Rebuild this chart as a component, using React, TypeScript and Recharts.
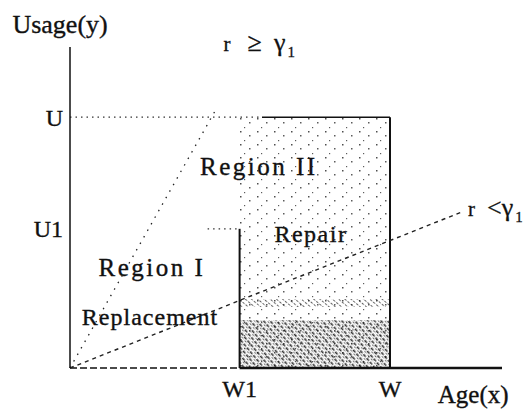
import { ComposedChart, XAxis, YAxis, ReferenceLine, ReferenceArea, ReferenceDot } from 'recharts';

// axis ticks (age on x, usage on y)
const xTickValues = [0.53, 1];
const xTickLabels = ['W1', 'W'];
const yTickValues = [0.555, 1];
const yTickLabels = ['U1', 'U'];

const W1 = 0.53;
const W = 1;
const U1 = 0.555;
const U = 1;

// the two usage-rate boundaries from the origin
const rateHigh = [{ x: 0, y: 0 }, { x: 0.46, y: 1.04 }];
const rateLow = [{ x: 0, y: 0 }, { x: 1.22, y: 0.62 }];

// shaded bands inside the warranty box
const hatchBand = [0.243, 0.275];
const denseBand = [0, 0.19];

// text labels: [text, x, y, size, spacing]
const labels: [string, number, number, number, number][] = [
    ['Usage(y)', -0.031, 1.336, 26, 0],
    ['Region II', 0.59, 0.77, 25, 2.5],
    ['Repair', 0.753, 0.502, 24, 1.5],
    ['Region I', 0.256, 0.367, 25, 2.5],
    ['Replacement', 0.25, 0.171, 24, 1],
    ['Age(x)', 1.26, -0.14, 25, 0],
];

const FONT = '"Liberation Serif", "DejaVu Serif", serif';

const TextLabel = (props: any) => {
    const { viewBox, text, size, spacing } = props;
    const x = viewBox.x + viewBox.width / 2;
    const y = viewBox.y + viewBox.height / 2;
    return (
        <text x={x} y={y} textAnchor="middle" fontFamily={FONT} fontSize={size} letterSpacing={spacing} fill="#111" stroke="#111" strokeWidth={0.35}>
            {text}
        </text>
    );
};

const RateLabel = (props: any) => {
    const { viewBox, op, gap1, gap2 } = props;
    const x = viewBox.x + viewBox.width / 2;
    const y = viewBox.y + viewBox.height / 2;
    return (
        <text x={x} y={y} fontFamily={FONT} fontSize={26} fill="#111" stroke="#111" strokeWidth={0.3}>
            <tspan fontSize={21}>r</tspan>
            <tspan dx={gap1}>{op}</tspan>
            <tspan dx={gap2}>γ</tspan>
            <tspan fontSize={15} dy={6} dx={2}>1</tspan>
        </text>
    );
};

const XTick = (props: any) => {
    const i = xTickValues.indexOf(props.payload.value);
    return (
        <text x={props.x} y={397} textAnchor="middle" fontFamily={FONT} fontSize={24} fill="#111" stroke="#111" strokeWidth={0.35}>
            {xTickLabels[i]}
        </text>
    );
};

const YTick = (props: any) => {
    const i = yTickValues.indexOf(props.payload.value);
    return (
        <text x={props.x + 1} y={props.y} dy="0.35em" textAnchor="end" fontFamily={FONT} fontSize={24} fill="#111" stroke="#111" strokeWidth={0.35}>
            {yTickLabels[i]}
        </text>
    );
};

export default function App() {
    return (
        <div style={{ position: 'absolute', left: 0, top: 0, background: '#fff' }}>
            <ComposedChart width={528} height={409} margin={{ top: 47, right: 26, bottom: 0, left: 0 }} data={[]}>
                <defs>
                    <pattern id="sparse" width="17" height="13" patternUnits="userSpaceOnUse">
                        <rect x="2" y="1" width="1.5" height="1.5" fill="#222" />
                        <rect x="11" y="5" width="1.5" height="1.5" fill="#333" />
                        <rect x="6" y="10" width="1.2" height="1.2" fill="#333" />
                    </pattern>
                    <pattern id="hatch" width="4" height="4" patternUnits="userSpaceOnUse" patternTransform="rotate(-50)">
                        <rect width="1" height="2.5" fill="#222" />
                    </pattern>
                    <pattern id="dense" width="5" height="5" patternUnits="userSpaceOnUse" patternTransform="rotate(-40)">
                        <rect width="1.5" height="3.5" fill="#111" />
                        <rect x="3" y="3.5" width="1.2" height="1.2" fill="#111" />
                        <rect x="3.5" y="0.5" width="1" height="1" fill="#333" />
                    </pattern>
                </defs>
                <XAxis
                    type="number"
                    dataKey="x"
                    domain={[0, 1.35]}
                    ticks={xTickValues}
                    tick={<XTick />}
                    tickLine={false}
                    axisLine={false}
                    height={41}
                    allowDataOverflow
                />
                <YAxis
                    type="number"
                    dataKey="y"
                    domain={[0, 1.28]}
                    ticks={yTickValues}
                    tick={<YTick />}
                    tickLine={false}
                    axisLine={{ stroke: '#111', strokeWidth: 1.5 }}
                    width={70}
                    allowDataOverflow
                />

                <ReferenceArea x1={W1} x2={W} y1={0} y2={U} fill="url(#sparse)" fillOpacity={0.8} stroke="none" ifOverflow="visible" />
                <ReferenceArea x1={W1} x2={W} y1={hatchBand[0]} y2={hatchBand[1]} fill="url(#hatch)" fillOpacity={0.7} stroke="none" />
                <ReferenceArea x1={W1} x2={W} y1={denseBand[0]} y2={denseBand[1]} fill="url(#dense)" fillOpacity={0.85} stroke="none" />

                {/* x axis: broken up to W1, solid after */}
                <ReferenceLine segment={[{ x: 0, y: 0 }, { x: W1, y: 0 }]} stroke="#111" strokeWidth={1.5} strokeDasharray="7 3" ifOverflow="visible" />
                <ReferenceLine segment={[{ x: W1, y: 0 }, { x: 1.35, y: 0 }]} stroke="#111" strokeWidth={2.5} ifOverflow="visible" />

                {/* warranty region boundaries */}
                <ReferenceLine segment={[{ x: 0, y: U }, { x: 0.6, y: U }]} stroke="#333" strokeWidth={1.2} strokeDasharray="1.5 4" />
                <ReferenceLine segment={[{ x: 0.6, y: U }, { x: W, y: U }]} stroke="#111" strokeWidth={1.5} />
                <ReferenceLine segment={[{ x: 0.43, y: U1 }, { x: W1, y: U1 }]} stroke="#333" strokeWidth={1.2} strokeDasharray="1.5 4" />
                <ReferenceLine segment={[{ x: W1, y: 0 }, { x: W1, y: U1 }]} stroke="#111" strokeWidth={2} />
                <ReferenceLine segment={[{ x: W, y: 0 }, { x: W, y: U }]} stroke="#111" strokeWidth={2} />

                {/* usage rate lines */}
                <ReferenceLine segment={rateHigh} stroke="#222" strokeWidth={1.3} strokeDasharray="1.5 6" ifOverflow="visible" />
                <ReferenceLine segment={rateLow} stroke="#222" strokeWidth={1.4} strokeDasharray="4 4" ifOverflow="visible" />

                {labels.map(([text, x, y, size, spacing]) => (
                    <ReferenceDot
                        key={text}
                        x={x}
                        y={y}
                        r={0}
                        fill="none"
                        stroke="none"
                        ifOverflow="visible"
                        label={<TextLabel text={text} size={size} spacing={spacing} />}
                    />
                ))}
                <ReferenceDot x={0.48} y={1.264} r={0} fill="none" stroke="none" ifOverflow="visible" label={<RateLabel op="≥" gap1={17} gap2={12} />} />
                <ReferenceDot x={1.244} y={0.606} r={0} fill="none" stroke="none" ifOverflow="visible" label={<RateLabel op="<" gap1={12} gap2={0} />} />
            </ComposedChart>
        </div>
    );
}
